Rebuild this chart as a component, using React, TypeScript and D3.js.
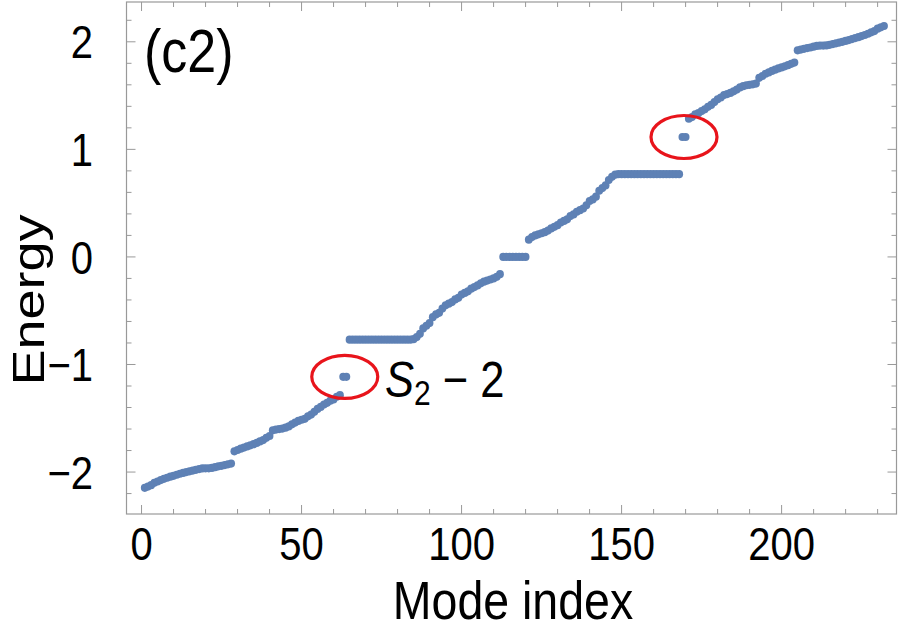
import React from "react";
import * as d3 from "d3";

// Lower half of the spectrum (mode index 1..116)
const energyLower: number[] = [
  -2.147, -2.135, -2.122, -2.1, -2.088, -2.075, -2.063, -2.053, -2.043, -2.035,
  -2.025, -2.016, -2.008, -2.0, -1.993, -1.986, -1.979, -1.972, -1.966, -1.965,
  -1.965, -1.962, -1.955, -1.947, -1.942, -1.935, -1.928, -1.921,
  -1.807, -1.795, -1.783, -1.772, -1.762, -1.752, -1.741, -1.729, -1.715, -1.703,
  -1.682, -1.665, -1.612, -1.605, -1.6, -1.596, -1.587, -1.576, -1.556, -1.54,
  -1.525, -1.514, -1.505, -1.482, -1.466, -1.44, -1.413, -1.395, -1.372, -1.356,
  -1.336, -1.325, -1.3, -1.285,
  -1.115, -1.115,
  -0.769, -0.769, -0.769, -0.769, -0.769, -0.769, -0.769, -0.769, -0.769, -0.769,
  -0.769, -0.769, -0.769, -0.769, -0.769, -0.769, -0.769, -0.769, -0.769, -0.769,
  -0.765, -0.745, -0.715, -0.665, -0.64, -0.615, -0.56, -0.535, -0.52, -0.48,
  -0.45, -0.435, -0.42, -0.395, -0.38, -0.35, -0.335, -0.32, -0.295, -0.28,
  -0.265, -0.245, -0.23, -0.22, -0.21, -0.2, -0.185, -0.16,
  0, 0, 0, 0,
];

// Upper half of the spectrum (mode index 117..232)
const energyUpper: number[] = [
  0, 0, 0, 0,
  0.16, 0.185, 0.2, 0.21, 0.22, 0.23, 0.245, 0.265, 0.28, 0.295,
  0.32, 0.335, 0.35, 0.38, 0.395, 0.42, 0.435, 0.45, 0.48, 0.52,
  0.535, 0.56, 0.615, 0.64, 0.665, 0.715, 0.745, 0.765,
  0.769, 0.769, 0.769, 0.769, 0.769, 0.769, 0.769, 0.769, 0.769, 0.769,
  0.769, 0.769, 0.769, 0.769, 0.769, 0.769, 0.769, 0.769, 0.769, 0.769,
  1.115, 1.115,
  1.285, 1.3, 1.325, 1.336, 1.356, 1.372, 1.395, 1.413, 1.44, 1.466,
  1.482, 1.505, 1.514, 1.525, 1.54, 1.556, 1.576, 1.587, 1.596, 1.6,
  1.605, 1.612, 1.665, 1.682, 1.703, 1.715, 1.729, 1.741, 1.752, 1.762,
  1.772, 1.783, 1.795, 1.807,
  1.921, 1.928, 1.935, 1.942, 1.947, 1.955, 1.962, 1.965, 1.965, 1.966,
  1.972, 1.979, 1.986, 1.993, 2.0, 2.008, 2.016, 2.025, 2.035, 2.043,
  2.053, 2.063, 2.075, 2.088, 2.1, 2.122, 2.135, 2.147,
];

const xMajorTicks: number[] = [0, 50, 100, 150, 200];
const yMajorTicks: number[] = [-2, -1, 0, 1, 2];
const yTickLabels: string[] = ["\u22122", "\u22121", "0", "1", "2"];

// circled isolated modes: [mode index center, energy]
const circledModes: [number, number][] = [
  [63.5, -1.115],
  [169.5, 1.115],
];

const W = 900;
const H = 640;
const left = 126.5;
const right = 896.5;
const top = 2;
const bottom = 514;
const K = 1.16; // vertical stretch of the lettering

const FONT = "'Liberation Sans', Arial, Helvetica, sans-serif";

export default function App() {
  const energy = energyLower.concat(energyUpper);
  const data = energy.map((e, i) => ({ idx: i + 1, e }));

  const x = d3.scaleLinear().domain([-4.7, 235.9]).range([left, right]);
  const y = d3.scaleLinear().domain([-2.39, 2.37]).range([bottom, top]);

  const xMinor = d3.range(0, 236, 10).filter((v) => v % 50 !== 0);
  const yMinor = d3
    .range(-2.2, 2.4, 0.2)
    .map((v) => Math.round(v * 10) / 10)
    .filter((v) => Math.abs(v - Math.round(v)) > 1e-6);

  const frameColor = "#999999";
  const majorLen = 9;
  const minorLen = 5;
  const tickFont = 40;
  const capH = 0.716 * tickFont * K;

  return (
    <svg
      width={W}
      height={H}
      style={{ position: "absolute", left: 0, top: 0, background: "#fff" }}
      fontFamily={FONT}
    >
      <rect x={0} y={0} width={W} height={H} fill="#fff" />
      {/* ticks */}
      <g stroke={frameColor} strokeWidth={1}>
        {xMajorTicks.map((t) => (
          <g key={"xM" + t}>
            <line x1={x(t)} x2={x(t)} y1={bottom} y2={bottom - majorLen} />
            <line x1={x(t)} x2={x(t)} y1={top} y2={top + majorLen} />
          </g>
        ))}
        {xMinor.map((t) => (
          <g key={"xm" + t}>
            <line x1={x(t)} x2={x(t)} y1={bottom} y2={bottom - minorLen} />
            <line x1={x(t)} x2={x(t)} y1={top} y2={top + minorLen} />
          </g>
        ))}
        {yMajorTicks.map((t) => (
          <g key={"yM" + t}>
            <line x1={left} x2={left + majorLen} y1={y(t)} y2={y(t)} />
            <line x1={right} x2={right - majorLen} y1={y(t)} y2={y(t)} />
          </g>
        ))}
        {yMinor.map((t) => (
          <g key={"ym" + t}>
            <line x1={left} x2={left + minorLen} y1={y(t)} y2={y(t)} />
            <line x1={right} x2={right - minorLen} y1={y(t)} y2={y(t)} />
          </g>
        ))}
      </g>
      <rect
        x={left}
        y={top}
        width={right - left}
        height={bottom - top}
        fill="none"
        stroke={frameColor}
        strokeWidth={1.2}
      />

      {/* data points */}
      <g fill="#5E81B5">
        {data.map((d) => (
          <ellipse key={d.idx} cx={x(d.idx)} cy={y(d.e)} rx={3.9} ry={4.1} />
        ))}
      </g>

      {/* red circles */}
      <g fill="none" stroke="#E8141B" strokeWidth={3.2}>
        {circledModes.map(([i, e]) => (
          <ellipse key={i} cx={x(i)} cy={y(e)} rx={33} ry={21.5} />
        ))}
      </g>

      {/* tick labels */}
      <g fontSize={tickFont} fill="#000">
        {xMajorTicks.map((t) => (
          <text
            key={"xl" + t}
            transform={`translate(${x(t)}, 560) scale(1, ${K})`}
            textAnchor="middle"
          >
            {t}
          </text>
        ))}
        {yMajorTicks.map((t, k) => (
          <text
            key={"yl" + t}
            transform={`translate(93, ${y(t) + capH / 2}) scale(1, ${K})`}
            textAnchor="end"
          >
            {yTickLabels[k]}
          </text>
        ))}
      </g>

      {/* axis labels */}
      <text
        transform={`translate(513, 619) scale(1, ${K})`}
        textAnchor="middle"
        fontSize={46.5}
        fill="#000"
      >
        Mode index
      </text>
      <text
        transform={`translate(44, 300) rotate(-90) scale(${K + 0.04}, 1)`}
        textAnchor="middle"
        fontSize={45}
        fill="#000"
      >
        Energy
      </text>

      <text
        transform={`translate(144, 72) scale(1, ${K})`}
        fontSize={52}
        fill="#000"
      >
        (c2)
      </text>

      <g transform={`translate(385, 397) scale(1, ${K})`}>
        <text x={0} y={0} fontSize={43.5} fill="#000">
          <tspan fontStyle="italic">S</tspan>
          <tspan fontSize={30} dy={7}>
            2
          </tspan>
          <tspan dy={-7}>{" \u2212 2"}</tspan>
        </text>
      </g>
    </svg>
  );
}
